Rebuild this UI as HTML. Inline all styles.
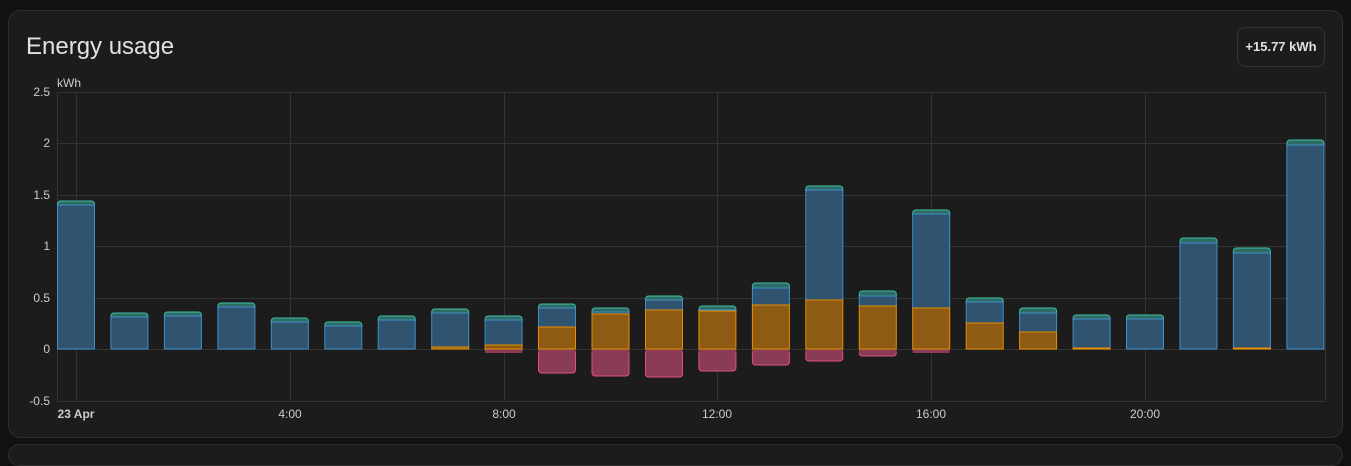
<!DOCTYPE html><html><head><style>
html,body{margin:0;background:#111;width:1351px;height:449px;overflow:hidden;font-family:"Liberation Sans",sans-serif}
.card{position:absolute;left:8px;top:10px;width:1333px;height:426px;background:#1c1c1c;border:1px solid #2e2e2e;border-radius:12px}
.t{position:absolute;left:17px;top:22px;color:#e1e1e1;font-size:24px}
.b{position:absolute;left:1228px;top:16px;width:86px;height:38px;border:1px solid #333;border-radius:8px;color:#e1e1e1;font-size:13px;font-weight:bold;line-height:38px;text-align:center}
.c2{position:absolute;left:8px;top:444px;width:1333px;height:20px;background:#1c1c1c;border:1px solid #2e2e2e;border-radius:12px}
</style></head><body>
<div class="card"><div class="t">Energy usage</div><div class="b">+15.77 kWh</div></div>
<div class="c2"></div>
<svg width="1351" height="449" style="position:absolute;left:0;top:0" font-family="Liberation Sans, sans-serif">
<g stroke="#333" stroke-width="1">
<line x1="57" y1="92.5" x2="1325" y2="92.5"/><line x1="57" y1="143.5" x2="1325" y2="143.5"/><line x1="57" y1="195.5" x2="1325" y2="195.5"/><line x1="57" y1="246.5" x2="1325" y2="246.5"/><line x1="57" y1="298.5" x2="1325" y2="298.5"/><line x1="57" y1="349.5" x2="1325" y2="349.5"/><line x1="57" y1="401.5" x2="1325" y2="401.5"/>
<line x1="57.5" y1="92" x2="57.5" y2="401"/><line x1="76.5" y1="92" x2="76.5" y2="401"/><line x1="290.5" y1="92" x2="290.5" y2="401"/><line x1="504.5" y1="92" x2="504.5" y2="401"/><line x1="717.5" y1="92" x2="717.5" y2="401"/><line x1="931.5" y1="92" x2="931.5" y2="401"/><line x1="1145.5" y1="92" x2="1145.5" y2="401"/><line x1="1325.5" y1="92" x2="1325.5" y2="401"/>
</g>
<g fill="#ccc" font-size="12" text-anchor="end">
<text x="50" y="96">2.5</text><text x="50" y="147">2</text><text x="50" y="199">1.5</text><text x="50" y="250">1</text><text x="50" y="302">0.5</text><text x="50" y="353">0</text><text x="50" y="405">-0.5</text>
</g>
<text x="57" y="87" fill="#ccc" font-size="12">kWh</text>
<g fill="#ccc" font-size="12" text-anchor="middle">
<text x="76" y="418" font-weight="bold">23 Apr</text><text x="290" y="418">4:00</text><text x="504" y="418">8:00</text><text x="717" y="418">12:00</text><text x="931" y="418">16:00</text><text x="1145" y="418">20:00</text>
</g>
<g id="bars"></g>
</svg>
<script>
var d=[[201,204,349,349],[313,316,349,349],[312,315,349,349],[303,306,349,349],[318,321,349,349],[322,325,349,349],[316,319,349,349],[309,312,347,349],[316,319,345,352],[304,307,327,373],[308,311,314,376],[296,299,310,377],[306,309,311,371],[283,287,305,365],[186,189,300,361],[291,295,306,356],[210,213,308,350],[298,301,323,349],[308,312,332,349],[315,318,348,349],[315,318,349,349],[238,242,349,349],[248,252,348,349],[140,144,349,349]];
var s='';
d.forEach(function(v,i){var x=(76+i*53.45-18.5).toFixed(1),w=37,b=v[1]+1;
s+='<rect x="'+x+'" y="'+v[0]+'" width="'+w+'" height="'+(b-v[0]+4)+'" rx="3" fill="#2e6b63" stroke="#3fbfa5"/>';
s+='<rect x="'+x+'" y="'+b+'" width="'+w+'" height="'+(v[2]-b)+'" fill="#30536f" stroke="#3f8fc8"/>';
if(v[3]>349.5)s+='<rect x="'+x+'" y="349" width="'+w+'" height="'+(v[3]-349)+'" rx="3" fill="#8a3c57" stroke="#e0507b"/><rect x="'+x+'" y="349" width="'+w+'" height="4" fill="#8a3c57"/>';
if(v[2]<348.5)s+='<rect x="'+x+'" y="'+v[2]+'" width="'+w+'" height="'+(349-v[2])+'" fill="#8d5b13" stroke="#e88f00"/>';
});
document.getElementById('bars').innerHTML=s;
</script>
</body></html>
